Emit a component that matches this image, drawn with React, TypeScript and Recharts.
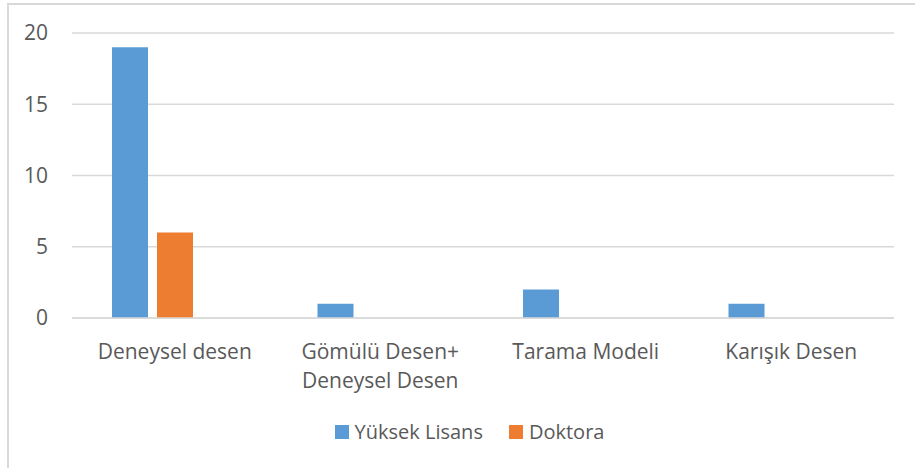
import { BarChart, Bar, XAxis, YAxis, CartesianGrid, Legend, Text } from 'recharts'

const categories = ['Deneysel desen', 'Gömülü Desen+ Deneysel Desen', 'Tarama Modeli', 'Karışık Desen']
const yuksekLisans = [19, 1, 2, 1]
const doktora: (number | null)[] = [6, null, null, null]
// Excel leaves room for a third (empty) series in every cluster
const bos: (number | null)[] = [null, null, null, null]
const yTicks = [0, 5, 10, 15, 20]

const data = categories.map((name, i) => ({
  name,
  yl: yuksekLisans[i],
  dr: doktora[i],
  bos: bos[i],
}))

const FONT = "'Open Sans', sans-serif"
const TEXT = '#595959'
const FS = 21

const CatTick = ({ x, y, payload }: any) => (
  <Text
    x={x}
    y={y + 24}
    width={180}
    textAnchor="middle"
    verticalAnchor="start"
    lineHeight={29}
    style={{ fontSize: FS, fontFamily: FONT }}
    fontSize={FS}
    fontFamily={FONT}
    fill={TEXT}
  >
    {payload.value}
  </Text>
)

const LegendBox = () => {
  const items = [
    { label: 'Yüksek Lisans', color: '#5B9BD5' },
    { label: 'Doktora', color: '#ED7D31' },
  ]
  return (
    <div style={{ display: 'flex', justifyContent: 'center', gap: 26, fontFamily: FONT, fontSize: FS - 1, color: TEXT }}>
      {items.map(it => (
        <div key={it.label} style={{ display: 'flex', alignItems: 'center', gap: 6 }}>
          <span style={{ width: 14, height: 14, background: it.color, display: 'inline-block' }} />
          <span style={{ lineHeight: '24px' }}>{it.label}</span>
        </div>
      ))}
    </div>
  )
}

export default function App() {
  return (
    <div style={{ position: 'fixed', left: 0, top: 0, width: 915, height: 468, overflow: 'hidden', background: '#fff' }}>
      <div style={{ position: 'absolute', left: 7, top: 3, width: 960, height: 520, border: '2px solid #d9d9d9' }} />
      <div style={{ position: 'absolute', left: 0, top: 0 }}>
        <BarChart
          width={915}
          height={468}
          data={data}
          margin={{ top: 33, right: 21, left: 0, bottom: 24 }}
          barSize={36}
          barGap={9}
        >
          <CartesianGrid vertical={false} stroke="#d9d9d9" strokeWidth={1.5} />
          <XAxis
            dataKey="name"
            height={102}
            tickLine={false}
            tickSize={0}
            axisLine={{ stroke: '#d9d9d9', strokeWidth: 1.5 }}
            interval={0}
            tick={<CatTick />}
          />
          <YAxis
            width={72}
            domain={[0, 20]}
            ticks={yTicks}
            tickLine={false}
            axisLine={false}
            tickSize={0}
            tickMargin={24}
            tick={{ fontSize: FS, fontFamily: FONT, fill: TEXT }}
          />
          <Legend
            verticalAlign="bottom"
            height={24}
            content={<LegendBox />}
            wrapperStyle={{ left: 0, width: 939 }}
          />
          <Bar dataKey="yl" name="Yüksek Lisans" fill="#5B9BD5" isAnimationActive={false} />
          <Bar dataKey="dr" name="Doktora" fill="#ED7D31" isAnimationActive={false} />
          <Bar dataKey="bos" name="" fill="transparent" legendType="none" isAnimationActive={false} />
        </BarChart>
      </div>
    </div>
  )
}
